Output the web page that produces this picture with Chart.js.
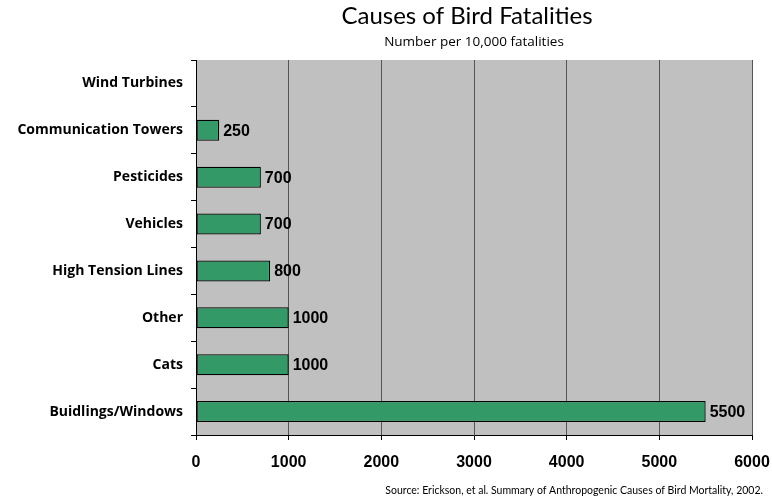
<!DOCTYPE html>
<html>
<head>
<meta charset="utf-8">
<script src="https://cdn.jsdelivr.net/npm/chart.js@4.4.1/dist/chart.umd.min.js"></script>
<style>
  html, body { margin: 0; padding: 0; background: #fff; overflow: hidden; }
  #wrap { width: 772px; height: 501px; position: relative; }
  canvas { display: block; }
</style>
</head>
<body>
<div id="wrap"><canvas id="birdChart"></canvas></div>
<script>
const categories = ['Wind Turbines', 'Communication Towers', 'Pesticides', 'Vehicles',
    'High Tension Lines', 'Other', 'Cats', 'Buidlings/Windows'];
const fatalities = [0, 250, 700, 700, 800, 1000, 1000, 5500];
const xTicks = [0, 1000, 2000, 3000, 4000, 5000, 6000];

const titleText = 'Causes of Bird Fatalities';
const subtitleText = 'Number per 10,000 fatalities';
const sourceText = 'Source: Erickson, et al. Summary of Anthropogenic Causes of Bird Mortality, 2002.';

// gray plot area, titles, source and bar value labels
const decor = {
    id: 'decor',
    beforeDraw(chart) {
        const a = chart.chartArea;
        const c = chart.ctx;
        c.save();
        c.fillStyle = '#c0c0c0';
        c.fillRect(a.left, a.top, a.right - a.left, a.bottom - a.top);
        c.restore();
    },
    afterDraw(chart) {
        const a = chart.chartArea;
        const c = chart.ctx;
        const mid = (a.left + a.right) / 2;
        c.save();
        c.fillStyle = '#000';
        c.textAlign = 'center';
        c.textBaseline = 'middle';
        c.font = '24px Lato, "Open Sans", sans-serif';
        c.fillText(titleText, mid - 7, 16);
        c.font = '13.5px "Open Sans", Lato, sans-serif';
        c.fillText(subtitleText, mid, 42);
        c.textAlign = 'right';
        c.font = '10.5px Lato, "Open Sans", sans-serif';
        c.fillText(sourceText, 763, 491);

        const meta = chart.getDatasetMeta(0);
        c.textAlign = 'left';
        c.font = 'bold 16px "Liberation Sans", Arial, sans-serif';
        meta.data.forEach((bar, i) => {
            const v = fatalities[i];
            if (!v) return;
            c.fillText(String(v), bar.x + 4, bar.y + 1);
        });
        c.restore();
    }
};

new Chart(document.getElementById('birdChart'), {
    type: 'bar',
    data: {
        labels: categories,
        datasets: [{
            data: fatalities,
            backgroundColor: '#339966',
            borderColor: '#000',
            borderWidth: 1.3,
            borderSkipped: false,
            barPercentage: 0.45,
            categoryPercentage: 1
        }]
    },
    options: {
        indexAxis: 'y',
        responsive: true,
        maintainAspectRatio: false,
        animation: false,
        layout: { autoPadding: false, padding: { top: 60, right: 20, left: 0, bottom: 0 } },
        plugins: {
            legend: { display: false },
            tooltip: { enabled: false }
        },
        scales: {
            x: {
                min: 0,
                max: 6000,
                afterBuildTicks(scale) {
                    scale.ticks = xTicks.map(v => ({ value: v }));
                },
                afterFit(scale) {
                    scale.height = 66;
                    // keep the last tick label from pushing the plot area in
                    scale.paddingRight = 20;
                    if (scale._margins) scale._margins.right = 20;
                },
                grid: {
                    color: '#555',
                    tickColor: '#000',
                    tickLength: 5,
                    lineWidth: 1
                },
                border: { color: '#000', width: 1 },
                ticks: {
                    color: '#000',
                    padding: 13,
                    callback: v => String(v),
                    font: { family: '"Liberation Sans", Arial, sans-serif', size: 16, weight: 'bold' }
                }
            },
            y: {
                afterFit(scale) { scale.width = 196; },
                grid: {
                    drawOnChartArea: false,
                    offset: true,
                    tickColor: '#000',
                    tickLength: 5
                },
                border: { color: '#000', width: 1 },
                ticks: {
                    color: '#000',
                    padding: 8,
                    font: { family: '"Open Sans", Lato, sans-serif', size: 14, weight: 'bold' }
                }
            }
        }
    },
    plugins: [decor]
});
</script>
</body>
</html>
